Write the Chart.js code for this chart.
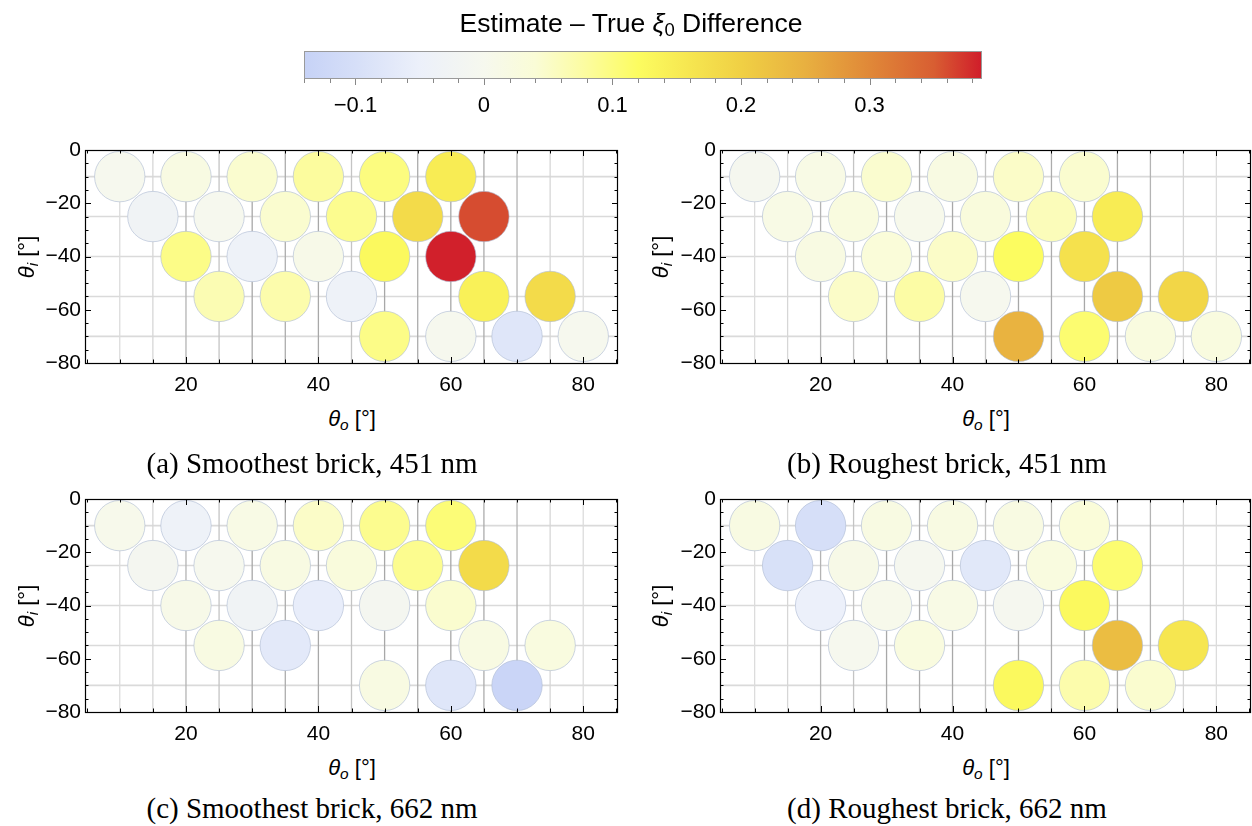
<!DOCTYPE html>
<html><head><meta charset="utf-8">
<script src="https://cdn.jsdelivr.net/npm/chart.js@4.4.0/dist/chart.umd.min.js"></script>
<style>
html,body{margin:0;padding:0;background:#fff;}
body{width:1252px;height:826px;overflow:hidden;position:relative;}
canvas{position:absolute;display:block;}
.t{position:absolute;font-family:"Liberation Sans",Arial,sans-serif;color:#000;white-space:nowrap;transform:translate(-50%,-50%);line-height:1;}
.t sub{font-size:70%;vertical-align:-0.25em;line-height:0;}
.ax{font-size:22px;}
.ay{font-size:22px;transform:translate(-50%,-50%) rotate(-90deg);}
.cap{position:absolute;font-family:"Liberation Serif","Times New Roman",serif;font-size:29px;color:#000;white-space:nowrap;transform:translate(-50%,-50%);line-height:1;}
</style></head><body>
<canvas id="cb" width="1252" height="130" style="left:0px;top:0px"></canvas>
<canvas id="pa" width="630" height="270" style="left:0px;top:130px"></canvas>
<canvas id="pb" width="622" height="270" style="left:630px;top:130px"></canvas>
<canvas id="pc" width="630" height="270" style="left:0px;top:479px"></canvas>
<canvas id="pd" width="622" height="270" style="left:630px;top:479px"></canvas>

<div class="t" style="left:631px;top:23px;font-size:26.5px">Estimate – True <i>ξ</i><sub>0</sub> Difference</div>

<div class="t ax" style="left:352px;top:419px"><i>θ</i><sub><i>o</i></sub> [°]</div>
<div class="t ax" style="left:986px;top:419px"><i>θ</i><sub><i>o</i></sub> [°]</div>
<div class="t ax" style="left:352px;top:768px"><i>θ</i><sub><i>o</i></sub> [°]</div>
<div class="t ax" style="left:986px;top:768px"><i>θ</i><sub><i>o</i></sub> [°]</div>

<div class="t ay" style="left:27px;top:257px"><i>θ</i><sub><i>i</i></sub> [°]</div>
<div class="t ay" style="left:661px;top:257px"><i>θ</i><sub><i>i</i></sub> [°]</div>
<div class="t ay" style="left:27px;top:606px"><i>θ</i><sub><i>i</i></sub> [°]</div>
<div class="t ay" style="left:661px;top:606px"><i>θ</i><sub><i>i</i></sub> [°]</div>

<div class="cap" style="left:312px;top:463px">(a) Smoothest brick, 451 nm</div>
<div class="cap" style="left:947px;top:463px">(b) Roughest brick, 451 nm</div>
<div class="cap" style="left:312px;top:808px">(c) Smoothest brick, 662 nm</div>
<div class="cap" style="left:947px;top:808px">(d) Roughest brick, 662 nm</div>

<script>
// ---------- DATA ----------
// measurement positions (θo, θi) for panels (a) and (b)
const gridAB_thetaO = [10,20,30,40,50,60, 15,25,35,45,55,65, 20,30,40,50,60, 25,35,45,65,75, 50,60,70,80];
const gridAB_thetaI = [-10,-10,-10,-10,-10,-10, -25,-25,-25,-25,-25,-25, -40,-40,-40,-40,-40, -55,-55,-55,-55,-55, -70,-70,-70,-70];
// measurement positions for panels (c) and (d)
const gridCD_thetaO = [10,20,30,40,50,60, 15,25,35,45,55,65, 20,30,40,50,60, 25,35,65,75, 50,60,70];
const gridCD_thetaI = [-10,-10,-10,-10,-10,-10, -25,-25,-25,-25,-25,-25, -40,-40,-40,-40,-40, -55,-55,-55,-55, -70,-70,-70];

// Estimate - True xi0 difference
const diffA = [0.000,0.020,0.045,0.080,0.100,0.150,  -0.030,0.000,0.045,0.090,0.180,0.360,  0.095,-0.040,0.010,0.125,0.385,  0.065,0.070,-0.040,0.140,0.180,  0.095,0.000,-0.080,0.000];
const diffB = [-0.005,0.015,0.045,0.020,0.050,0.045,  0.015,0.025,0.005,0.030,0.060,0.150,  0.020,0.035,0.050,0.120,0.170,  0.050,0.075,0.000,0.210,0.190,  0.245,0.110,0.025,0.025];
const diffC = [0.005,-0.040,0.015,0.050,0.090,0.105,  -0.010,0.000,0.020,0.030,0.090,0.180,  0.010,-0.030,-0.060,-0.010,0.045,  0.020,-0.070,0.020,0.025,  0.020,-0.080,-0.130];
const diffD = [0.020,-0.100,0.020,0.020,0.020,0.035,  -0.095,0.012,-0.005,-0.075,0.025,0.110,  -0.050,0.005,0.015,-0.005,0.125,  0.000,0.025,0.230,0.160,  0.125,0.070,0.045];

// axis ticks
const xTickValues = [20,40,60,80];
const xTickLabels = ['20','40','60','80'];
const yTickValues = [0,-20,-40,-60,-80];
const yTickLabels = ['0','\u221220','\u221240','\u221260','\u221280'];
const cbTickValues = [-0.1,0,0.1,0.2,0.3];
const cbTickLabels = ['\u22120.1','0','0.1','0.2','0.3'];
const cbRange = [-0.14, 0.3875];

// colour map of the legend bar: [value, colour]
const cmapValues = [-0.14,-0.10,-0.05,0.00,0.04,0.08,0.12,0.16,0.20,0.25,0.30,0.35,0.3875];
const cmapColors = ['#c6d2f6','#d6dff8','#ecf0fa','#f6f8ee','#fafcd6','#fcfc9e','#fcfc60','#f6e650','#f0d044','#e8b040','#e08838','#d85e32','#d01c2a'];

// ---------- STYLE ----------
const X_RANGE = [4.75, 85.25], Y_RANGE = [-80, 0];
const gridXLines = [10,15,20,25,30,35,40,45,50,55,60,65,70,75,80];
const gridXShade = ['#dcdcdc','#d6d6d6','#b4b4b4','#c4c4c4','#a8a8a8','#acacac','#a8a8a8','#c4c4c4','#a8a8a8','#acacac','#a8a8a8','#acacac','#b4b4b4','#d6d6d6','#dcdcdc'];
const gridYLines = [-10,-25,-40,-55,-70];

function hex(h){return [parseInt(h.substr(1,2),16),parseInt(h.substr(3,2),16),parseInt(h.substr(5,2),16)];}
function colorFor(v){
  if (v<=cmapValues[0]) return cmapColors[0];
  for (let i=1;i<cmapValues.length;i++){
    if (v<=cmapValues[i]){
      const t=(v-cmapValues[i-1])/(cmapValues[i]-cmapValues[i-1]);
      const a=hex(cmapColors[i-1]), b=hex(cmapColors[i]);
      return 'rgb('+a.map((c,k)=>Math.round(c+(b[k]-c)*t)).join(',')+')';
    }
  }
  return cmapColors[cmapColors.length-1];
}

Chart.defaults.font.family = '"Liberation Sans", Arial, sans-serif';
Chart.defaults.color = '#000';

function zeroPad(s){ s.paddingLeft = 0; s.paddingRight = 0; s.paddingTop = 0; s.paddingBottom = 0; }

const panelPlugin = {
  id:'panelDecor',
  beforeDatasetsDraw(chart){
    const {ctx, chartArea:a, scales:{x,y}} = chart;
    ctx.save();
    ctx.beginPath(); ctx.rect(a.left,a.top,a.right-a.left,a.bottom-a.top); ctx.clip();
    ctx.lineWidth = 1.6; ctx.strokeStyle = '#dadada';
    gridYLines.forEach(v=>{const p=y.getPixelForValue(v); ctx.beginPath(); ctx.moveTo(a.left,p); ctx.lineTo(a.right,p); ctx.stroke();});
    ctx.lineWidth = 1.3;
    gridXLines.forEach((v,i)=>{const p=x.getPixelForValue(v); ctx.strokeStyle=gridXShade[i]; ctx.beginPath(); ctx.moveTo(p,a.top); ctx.lineTo(p,a.bottom); ctx.stroke();});
    ctx.restore();
  },
  afterDatasetsDraw(chart){
    const {ctx, chartArea:a, scales:{x,y}} = chart;
    ctx.save();
    ctx.strokeStyle = '#000'; ctx.lineWidth = 1;
    for (let v=5; v<=85; v+=5){
      const p = Math.round(x.getPixelForValue(v))+0.5;
      if (p<a.left || p>a.right) continue;
      const L = (v%20===0)?6:3.5;
      ctx.beginPath(); ctx.moveTo(p,a.bottom); ctx.lineTo(p,a.bottom-L); ctx.moveTo(p,a.top); ctx.lineTo(p,a.top+L); ctx.stroke();
    }
    for (let v=-80; v<=0; v+=5){
      const p = Math.round(y.getPixelForValue(v))+0.5;
      const L = (v%20===0)?6:3.5;
      ctx.beginPath(); ctx.moveTo(a.left,p); ctx.lineTo(a.left+L,p); ctx.moveTo(a.right,p); ctx.lineTo(a.right-L,p); ctx.stroke();
    }
    ctx.lineWidth = 1.2;
    ctx.strokeRect(Math.round(a.left)+0.5, Math.round(a.top)+0.5, Math.round(a.right-a.left)-1, Math.round(a.bottom-a.top));
    ctx.restore();
  }
};

function makePanel(id, thetaO, thetaI, diff, yWidth, rightPad){
  const pts = thetaO.map((xv,i)=>({x:xv, y:thetaI[i]}));
  new Chart(document.getElementById(id), {
    type:'scatter',
    data:{datasets:[{data:pts, backgroundColor:diff.map(colorFor), borderColor:'rgba(175,188,212,0.9)', borderWidth:0.7, pointRadius:25.2, pointHoverRadius:25.2}]},
    options:{
      responsive:false, animation:false, events:[],
      layout:{autoPadding:false, padding:{left:0, right:rightPad, top:20, bottom:0}},
      plugins:{legend:{display:false}, tooltip:{enabled:false}},
      scales:{
        x:{type:'linear', min:X_RANGE[0], max:X_RANGE[1],
           grid:{display:false, drawTicks:false}, border:{display:false},
           afterBuildTicks(s){s.ticks = xTickValues.map(v=>({value:v}));},
           afterFit(s){s.height = 37; zeroPad(s);},
           ticks:{font:{size:21}, padding:10, maxRotation:0, autoSkip:false, callback:(v,i)=>xTickLabels[i]}},
        y:{type:'linear', min:Y_RANGE[0], max:Y_RANGE[1],
           grid:{display:false, drawTicks:false}, border:{display:false},
           afterBuildTicks(s){s.ticks = yTickValues.map(v=>({value:v}));},
           afterFit(s){s.width = yWidth; zeroPad(s);},
           ticks:{font:{size:21}, padding:4, autoSkip:false, callback:(v,i)=>yTickLabels[i]}}
      }
    },
    plugins:[panelPlugin]
  });
}

makePanel('pa', gridAB_thetaO, gridAB_thetaI, diffA, 85, 12);
makePanel('pb', gridAB_thetaO, gridAB_thetaI, diffB, 90, 1);
makePanel('pc', gridCD_thetaO, gridCD_thetaI, diffC, 85, 12);
makePanel('pd', gridCD_thetaO, gridCD_thetaI, diffD, 90, 1);

const cbPlugin = {
  id:'cbar',
  beforeDatasetsDraw(chart){
    const {ctx, chartArea:a, scales:{x}} = chart;
    const x0 = x.getPixelForValue(cbRange[0]), x1 = x.getPixelForValue(cbRange[1]);
    const g = ctx.createLinearGradient(x0,0,x1,0);
    cmapValues.forEach((v,i)=>g.addColorStop((v-cbRange[0])/(cbRange[1]-cbRange[0]), cmapColors[i]));
    ctx.save();
    ctx.fillStyle = g; ctx.fillRect(a.left,a.top,a.right-a.left,a.bottom-a.top);
    ctx.strokeStyle = '#9a9a9a'; ctx.lineWidth = 1;
    ctx.strokeRect(Math.round(a.left)+0.5, Math.round(a.top)+0.5, Math.round(a.right-a.left)-1, Math.round(a.bottom-a.top));
    ctx.strokeStyle = '#888';
    for (let k=-7; k<=19; k++){
      const v = k*0.02;
      if (v<cbRange[0]-1e-9 || v>cbRange[1]) continue;
      const p = Math.round(x.getPixelForValue(v))+0.5;
      const L = (k%5===0)?6:4;
      ctx.beginPath(); ctx.moveTo(p,a.bottom+1); ctx.lineTo(p,a.bottom+1+L); ctx.stroke();
    }
    ctx.restore();
  }
};
new Chart(document.getElementById('cb'), {
  type:'scatter',
  data:{datasets:[{data:[]}]},
  options:{
    responsive:false, animation:false, events:[],
    layout:{autoPadding:false, padding:{left:304, right:270, top:51, bottom:0}},
    plugins:{legend:{display:false}, tooltip:{enabled:false}},
    scales:{
      x:{type:'linear', min:cbRange[0], max:cbRange[1],
         grid:{display:false, drawTicks:false}, border:{display:false},
         afterBuildTicks(s){s.ticks = cbTickValues.map(v=>({value:v}));},
         afterFit(s){s.height = 52; zeroPad(s);},
         ticks:{font:{size:22}, padding:15, maxRotation:0, autoSkip:false, callback:(v,i)=>cbTickLabels[i]}},
      y:{display:false, min:0, max:1}
    }
  },
  plugins:[cbPlugin]
});
</script>
</body></html>
